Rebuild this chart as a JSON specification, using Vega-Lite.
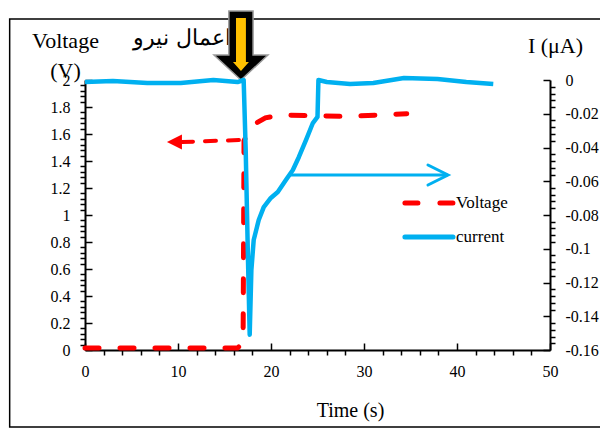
{
  "$schema": "https://vega.github.io/schema/vega-lite/v6.json",
  "width": 465,
  "height": 270,
  "autosize": "none",
  "padding": {"left": 85, "top": 80, "right": 50, "bottom": 78},
  "background": "white",
  "config": {
    "view": {"stroke": null},
    "axis": {
      "domainColor": "black", "domainWidth": 2,
      "tickColor": "black", "tickWidth": 1.5,
      "labelFont": "Liberation Serif", "labelFontSize": 16, "labelColor": "black",
      "titleFont": "Liberation Serif", "titleFontSize": 22, "titleFontWeight": "normal", "titleColor": "black",
      "grid": false, "labelOverlap": false, "labelFlush": false
    }
  },
  "datasets": {
    "voltage": [
      {"t": 0, "V": 0.015}, {"t": 16.4, "V": 0.015}, {"t": 16.8, "V": 0.04}, {"t": 17.0, "V": 0.06},
      {"t": 17.05, "V": 0.8}, {"t": 17.1, "V": 1.55}, {"t": 17.6, "V": 1.62}, {"t": 18.4, "V": 1.68},
      {"t": 19.4, "V": 1.72}, {"t": 21, "V": 1.74}, {"t": 28, "V": 1.73}, {"t": 34.6, "V": 1.75}
    ],
    "current": [
      {"t": 0, "I": -0.0012}, {"t": 3.0, "I": -0.0006}, {"t": 6.7, "I": -0.0018}, {"t": 10.3, "I": -0.0018},
      {"t": 13.8, "I": 0}, {"t": 16.4, "I": -0.0012}, {"t": 17.06, "I": 0}, {"t": 17.28, "I": -0.0415},
      {"t": 17.5, "I": -0.1}, {"t": 17.71, "I": -0.151}, {"t": 17.89, "I": -0.1126}, {"t": 18.14, "I": -0.0948},
      {"t": 18.68, "I": -0.083}, {"t": 19.22, "I": -0.0753}, {"t": 19.98, "I": -0.0699}, {"t": 20.73, "I": -0.0664},
      {"t": 21.6, "I": -0.0593}, {"t": 22.35, "I": -0.0533}, {"t": 23.0, "I": -0.0456}, {"t": 23.76, "I": -0.0356},
      {"t": 24.5, "I": -0.0255}, {"t": 25.0, "I": -0.0219}, {"t": 25.1, "I": 0}, {"t": 26, "I": -0.0012},
      {"t": 28.5, "I": -0.0024}, {"t": 31, "I": -0.0018}, {"t": 34.3, "I": 0.0012}, {"t": 37.9, "I": 0.0006},
      {"t": 41, "I": -0.0012}, {"t": 43.9, "I": -0.0024}
    ],
    "frame": [{"t": -8.1, "t2": 60, "V": 2.452, "V2": -0.57}],
    "redArrow": [{"t": 10.43, "V": 1.54}, {"t": 16.7, "V": 1.556}],
    "redHead": [{"t": 9.62, "V": 1.54}],
    "blueArrow": [{"t": 22.04, "I": -0.0563}, {"t": 39.0, "I": -0.0563}],
    "blueHead": [{"t": 39.03, "I": -0.0563}],
    "legendV": [{"t": 34.4, "V": 1.089}, {"t": 39.57, "V": 1.089}],
    "legendI": [{"t": 34.4, "V": 0.837}, {"t": 39.57, "V": 0.837}],
    "legendText": [{"t": 39.9, "V": 1.089, "label": "Voltage"}, {"t": 39.9, "V": 0.837, "label": "current"}],
    "bigArrow": [{"t": 16.77, "V": 2.185}],
    "note": [{"t": 15.7, "V": 2.31, "label": "اعمال نيرو"}]
  },
  "layer": [
    {
      "layer": [
        {
          "data": {"name": "voltage"},
          "mark": {"type": "line", "color": "#ff0000", "strokeWidth": 5, "strokeDash": [14, 21], "strokeCap": "round"},
          "encoding": {
            "x": {
              "field": "t", "type": "quantitative",
              "scale": {"domain": [0, 50], "nice": false},
              "axis": {
                "title": "Time (s)", "titleFontSize": 20, "titleX": 265, "titleY": 60, "titleAlign": "center", "titleBaseline": "middle",
                "values": [0,2,4,6,8,10,12,14,16,18,20,22,24,26,28,30,32,34,36,38,40,42,44,46,48,50],
                "tickCount": 500,
                "labelExpr": "datum.value % 10 === 0 ? '' + datum.value : ''",
                "labelOverlap": false,
                "tickSize": {"condition": {"test": "datum.value % 10 === 0", "value": -7}, "value": 5},
                "labelPadding": 20
              }
            },
            "y": {
              "field": "V", "type": "quantitative",
              "scale": {"domain": [0, 2], "nice": false},
              "axis": {
                "title": ["Voltage", "(V)"], "titleAngle": 0, "titleX": -20, "titleY": -40,
                "titleAlign": "center", "titleBaseline": "middle", "titleLineHeight": 30,
                "values": [0,0.04,0.08,0.12,0.16,0.2,0.24,0.28,0.32,0.36,0.4,0.44,0.48,0.52,0.56,0.6,0.64,0.68,0.72,0.76,0.8,0.84,0.88,0.92,0.96,1,1.04,1.08,1.12,1.16,1.2,1.24,1.28,1.32,1.36,1.4,1.44,1.48,1.52,1.56,1.6,1.64,1.68,1.72,1.76,1.8,1.84,1.88,1.92,1.96,2],
                "tickCount": 500,
                "labelExpr": "abs(datum.value*5-round(datum.value*5))<0.001 ? '' + round(datum.value*10)/10 : ''",
                "labelOverlap": false,
                "tickSize": {"condition": {"test": "abs(datum.value*5-round(datum.value*5))<0.001", "value": -7}, "value": 5},
                "labelPadding": 22
              }
            }
          }
        },
        {
          "data": {"name": "frame"},
          "mark": {"type": "rect", "fill": null, "fillOpacity": 0, "stroke": "black", "strokeWidth": 1.5},
          "encoding": {
            "x": {"field": "t", "type": "quantitative", "scale": {"domain": [0, 50], "nice": false}},
            "x2": {"field": "t2"},
            "y": {"field": "V", "type": "quantitative", "scale": {"domain": [0, 2], "nice": false}},
            "y2": {"field": "V2"}
          }
        },
        {
          "data": {"name": "redArrow"},
          "mark": {"type": "line", "color": "#ff0000", "strokeWidth": 4, "strokeDash": [11, 12], "strokeCap": "round"},
          "encoding": {
            "x": {"field": "t", "type": "quantitative"},
            "y": {"field": "V", "type": "quantitative"}
          }
        },
        {
          "data": {"name": "redHead"},
          "mark": {"type": "point", "shape": "M-1,0L1,-1L1,1Z", "size": 225, "filled": true, "fill": "#ff0000", "opacity": 1, "strokeWidth": 0},
          "encoding": {
            "x": {"field": "t", "type": "quantitative"},
            "y": {"field": "V", "type": "quantitative"}
          }
        },
        {
          "data": {"name": "legendV"},
          "mark": {"type": "line", "color": "#ff0000", "strokeWidth": 5, "strokeDash": [13, 22], "strokeCap": "round"},
          "encoding": {
            "x": {"field": "t", "type": "quantitative"},
            "y": {"field": "V", "type": "quantitative"}
          }
        },
        {
          "data": {"name": "legendI"},
          "mark": {"type": "line", "color": "#00b0f0", "strokeWidth": 5, "strokeCap": "round"},
          "encoding": {
            "x": {"field": "t", "type": "quantitative"},
            "y": {"field": "V", "type": "quantitative"}
          }
        },
        {
          "data": {"name": "legendText"},
          "mark": {"type": "text", "align": "left", "baseline": "middle", "font": "Liberation Serif", "fontSize": 17, "color": "black"},
          "encoding": {
            "x": {"field": "t", "type": "quantitative"},
            "y": {"field": "V", "type": "quantitative"},
            "text": {"field": "label"}
          }
        },
        {
          "data": {"name": "note"},
          "mark": {"type": "text", "align": "right", "baseline": "middle", "font": "DejaVu Serif", "fontSize": 22, "color": "black"},
          "encoding": {
            "x": {"field": "t", "type": "quantitative"},
            "y": {"field": "V", "type": "quantitative"},
            "text": {"field": "label"}
          }
        },
        {
          "data": {"name": "bigArrow"},
          "mark": {"type": "point", "shape": "M-0.44,-1.6L0.44,-1.6L0.44,0L0.98,0L0,0.91L-0.98,0L-0.44,0Z", "size": 3025, "filled": true, "fill": "black", "opacity": 1, "stroke": "#9a9a9a", "strokeWidth": 1.5},
          "encoding": {
            "x": {"field": "t", "type": "quantitative"},
            "y": {"field": "V", "type": "quantitative"}
          }
        },
        {
          "data": {"name": "bigArrow"},
          "mark": {"type": "point", "shape": "M-0.18,-1.35L0.18,-1.35L0.18,0.25L0.29,0.25L0,0.58L-0.29,0.25L-0.18,0.25Z", "size": 3025, "filled": true, "fill": "#ffc000", "opacity": 1, "strokeWidth": 0},
          "encoding": {
            "x": {"field": "t", "type": "quantitative"},
            "y": {"field": "V", "type": "quantitative"}
          }
        }
      ]
    },
    {
      "layer": [
        {
          "data": {"name": "current"},
          "mark": {"type": "line", "color": "#00b0f0", "strokeWidth": 4.5, "strokeJoin": "round"},
          "encoding": {
            "x": {"field": "t", "type": "quantitative"},
            "y": {
              "field": "I", "type": "quantitative",
              "scale": {"domain": [-0.16, 0], "nice": false, "zero": false},
              "axis": {
                "orient": "right",
                "title": "I (μA)", "titleAngle": 0, "titleX": 5, "titleY": -35,
                "titleAlign": "center", "titleBaseline": "middle",
                "values": [0,-0.004,-0.008,-0.012,-0.016,-0.02,-0.024,-0.028,-0.032,-0.036,-0.04,-0.044,-0.048,-0.052,-0.056,-0.06,-0.064,-0.068,-0.072,-0.076,-0.08,-0.084,-0.088,-0.092,-0.096,-0.1,-0.104,-0.108,-0.112,-0.116,-0.12,-0.124,-0.128,-0.132,-0.136,-0.14,-0.144,-0.148,-0.152,-0.156,-0.16],
                "tickCount": 500,
                "labelExpr": "abs(datum.value*50-round(datum.value*50))<0.001 ? '' + round(datum.value*100)/100 : ''",
                "labelOverlap": false,
                "tickSize": {"condition": {"test": "abs(datum.value*50-round(datum.value*50))<0.001", "value": -7}, "value": 5},
                "labelPadding": 22
              }
            }
          }
        },
        {
          "data": {"name": "blueArrow"},
          "mark": {"type": "line", "color": "#00b0f0", "strokeWidth": 3},
          "encoding": {
            "x": {"field": "t", "type": "quantitative"},
            "y": {"field": "I", "type": "quantitative"}
          }
        },
        {
          "data": {"name": "blueHead"},
          "mark": {"type": "point", "shape": "M-1,-0.5L0,0L-1,0.5", "size": 1600, "filled": false, "stroke": "#00b0f0", "opacity": 1, "strokeWidth": 3, "strokeCap": "round"},
          "encoding": {
            "x": {"field": "t", "type": "quantitative"},
            "y": {"field": "I", "type": "quantitative"}
          }
        }
      ]
    }
  ],
  "resolve": {"scale": {"y": "independent"}}
}
